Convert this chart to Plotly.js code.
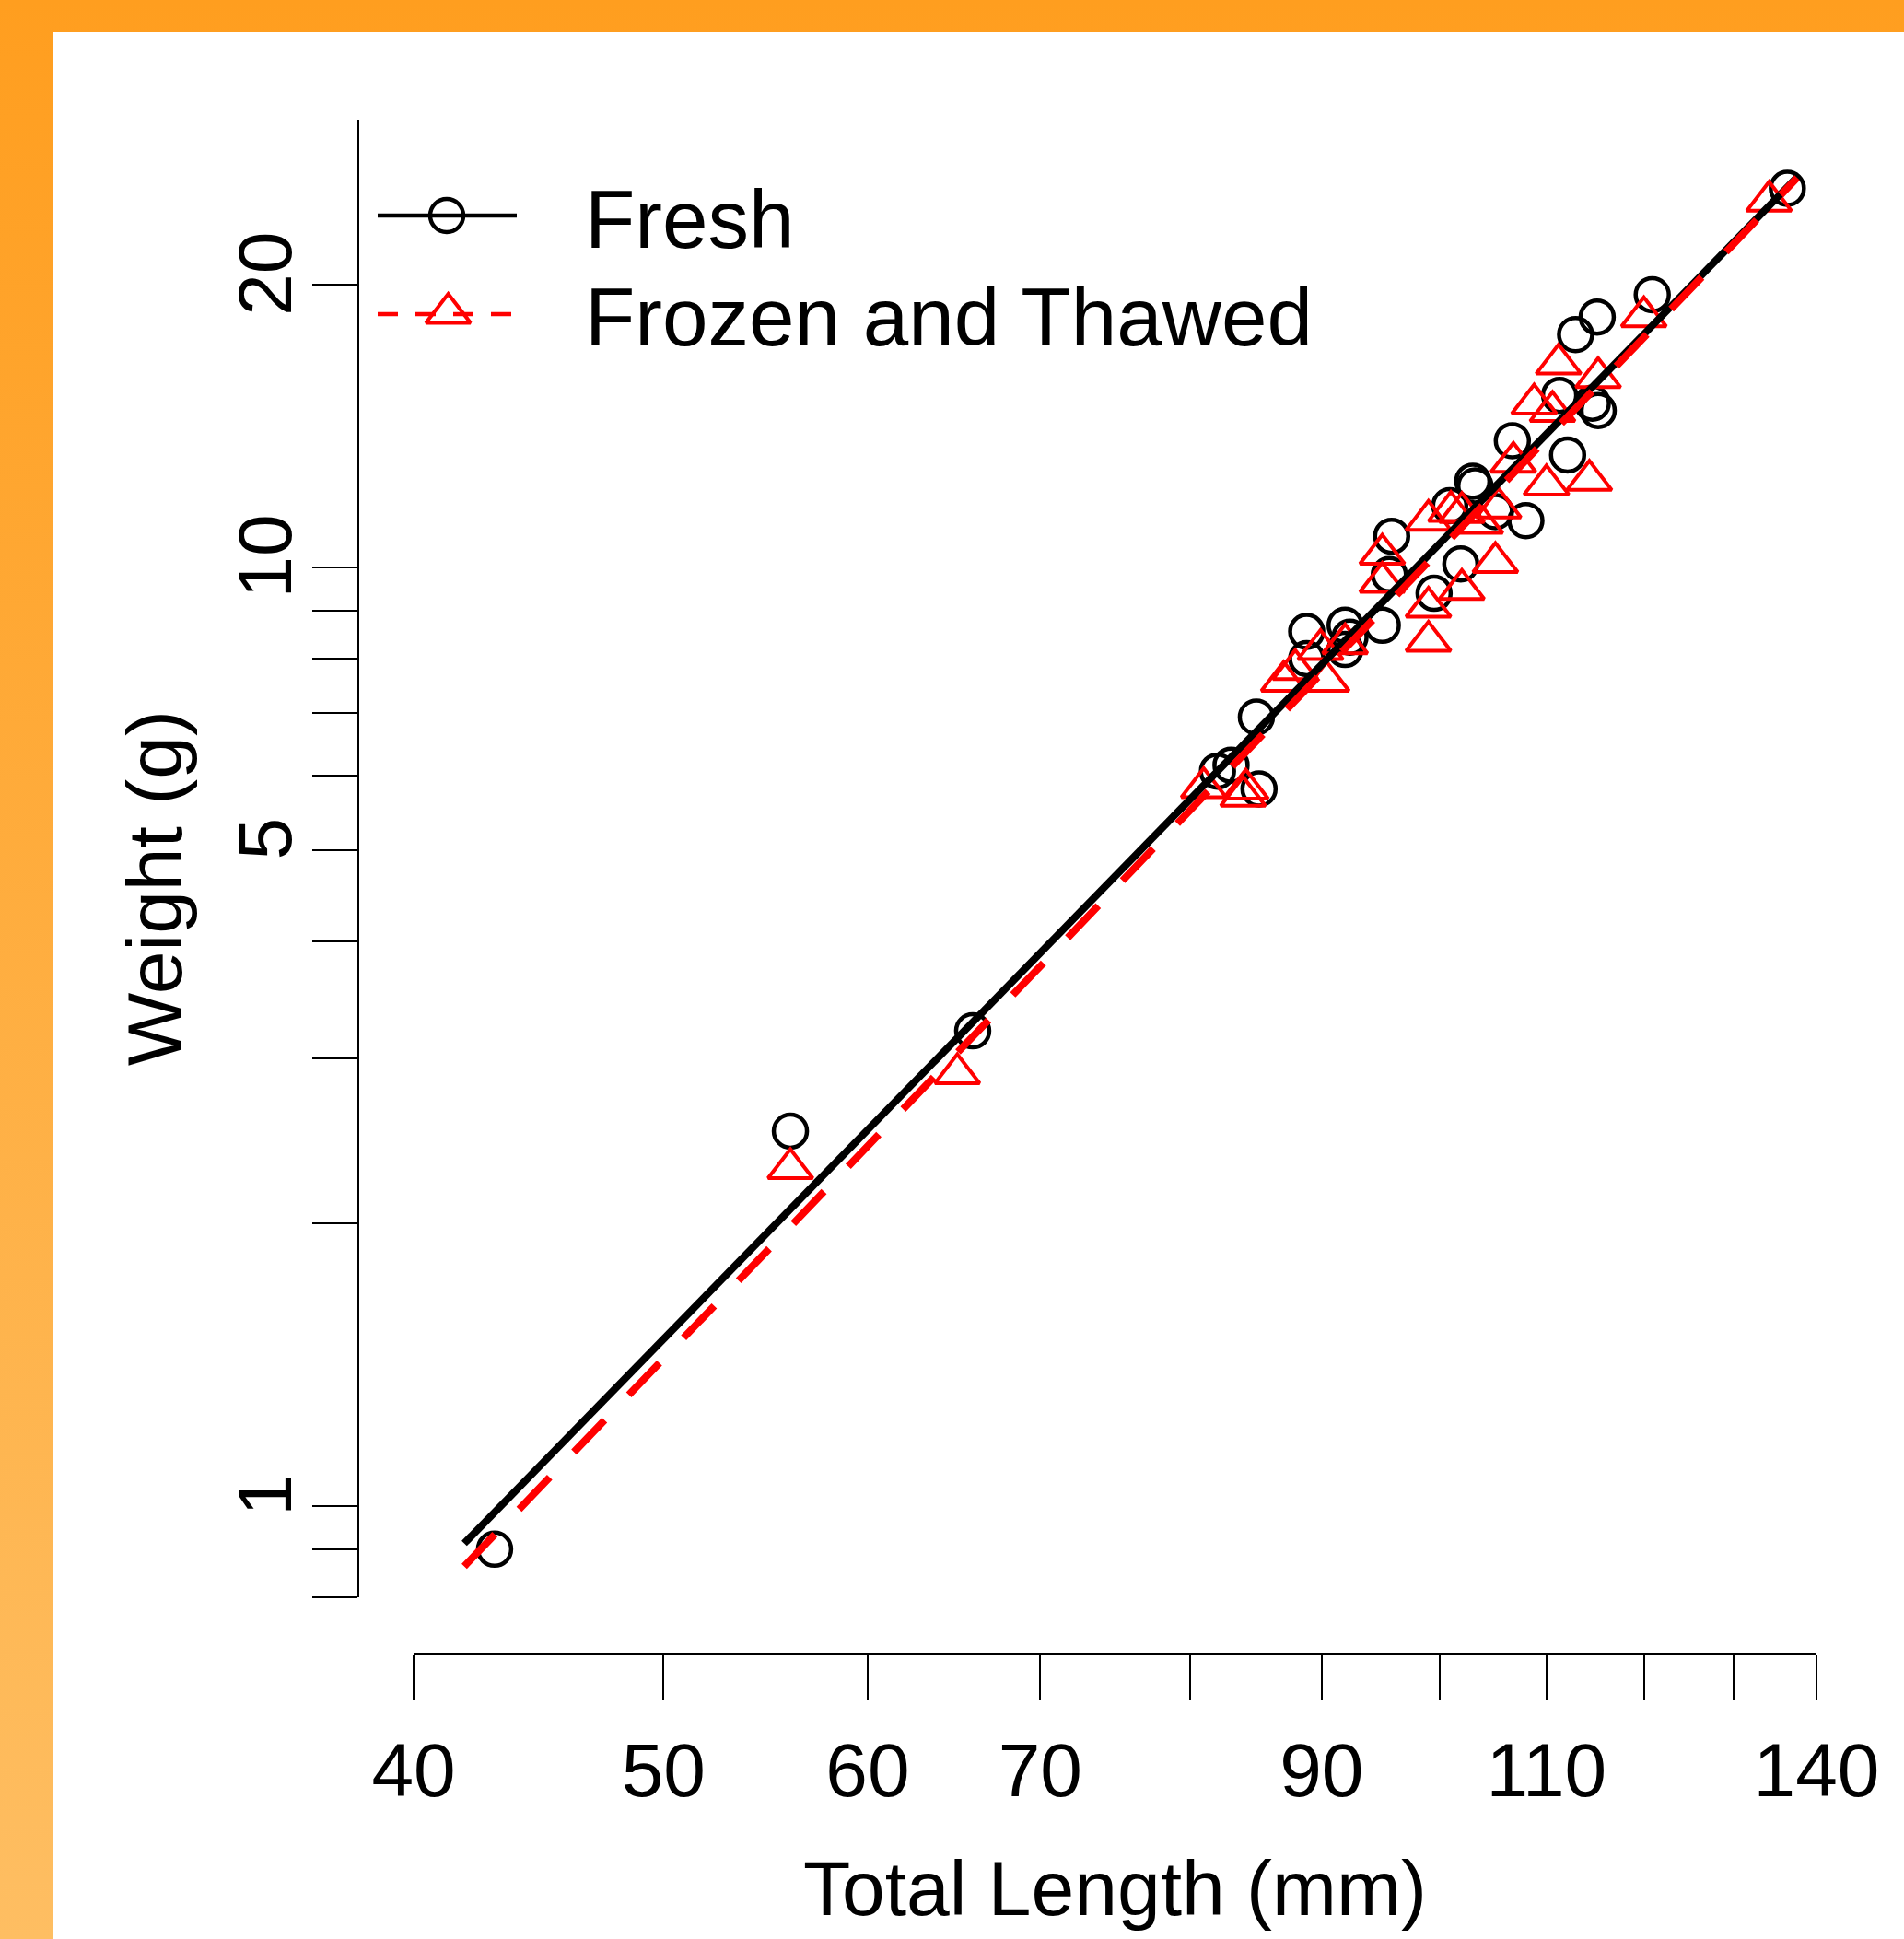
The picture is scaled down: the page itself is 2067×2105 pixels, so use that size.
<!DOCTYPE html>
<html><head><meta charset="utf-8">
<script src="https://cdn.plot.ly/plotly-3.0.1.min.js"></script>
<style>
html,body{margin:0;padding:0;}
body{width:2067px;height:2105px;background:linear-gradient(to bottom,#FF9E1F 0%,#FEBE62 100%);position:relative;overflow:hidden;}
#chart{position:absolute;left:58px;top:35px;width:2009px;height:2070px;background:#ffffff;}
</style></head>
<body><div id="chart"></div>
<script>
// ---- data ----
const freshLength = [43.0, 56.0, 65.9, 82.0, 83.0, 85.1, 84.9, 88.8, 91.9, 92.3, 95.0, 91.9, 88.8, 95.8, 95.6, 101.9, 99.5, 108.0, 100.9, 103.0, 103.2, 105.1, 106.7, 112.1, 111.3, 114.6, 115.2, 112.9, 115.1, 120.9, 136.4];
const freshWeight = [0.90, 2.51, 3.21, 6.07, 6.16, 5.81, 6.93, 8.55, 8.68, 8.43, 8.68, 8.18, 8.00, 10.8, 9.83, 10.09, 9.39, 11.22, 11.64, 12.36, 12.22, 11.47, 13.65, 13.18, 15.26, 14.97, 14.70, 17.71, 18.49, 19.53, 25.35];
const frozenLength = [42.0, 56.0, 65.0, 81.0, 83.9, 84.1, 87.0, 87.9, 90.4, 89.9, 91.9, 95.0, 95.0, 99.0, 99.0, 102.0, 105.1, 99.0, 101.0, 102.0, 103.7, 105.4, 106.8, 110.0, 114.3, 108.8, 110.6, 111.2, 115.2, 120.0, 134.2];
const frozenWeight = [0.797, 2.29, 2.89, 5.83, 5.71, 5.81, 7.57, 7.79, 7.57, 8.18, 8.30, 10.34, 9.65, 9.08, 8.35, 9.48, 10.13, 11.23, 11.48, 11.45, 11.15, 11.58, 12.95, 12.25, 12.39, 14.94, 14.67, 16.48, 15.94, 18.51, 24.57];
const fitLength = [41.85, 137.6];
const freshFit = [0.913, 26.06];
const frozenFit = [0.863, 26.02];
const xTickVals = [40, 50, 60, 70, 80, 90, 100, 110, 120, 130, 140];
const xTickText = ['40', '50', '60', '70', '', '90', '', '110', '', '', '140'];
const yTickVals = [0.8, 0.9, 1, 2, 3, 4, 5, 6, 7, 8, 9, 10, 20];
const yTickText = ['', '', '1', '', '', '', '5', '', '', '', '', '10', '20'];
const seriesNames = ['Fresh', 'Frozen and Thawed'];
const xTitle = 'Total Length (mm)';
const yTitle = 'Weight (g)';

// ---- layout geometry (div pixels) ----
const W = 2009, H = 2070;
const FONT = 'Liberation Sans, Arial, Helvetica, sans-serif';
const circleMarker = {symbol: 'circle-open', size: 36, color: '#000000', line: {width: 4.5, color: '#000000'}};
const triMarker = {symbol: 'triangle-up-open', size: 42, color: '#ff0000', line: {width: 4, color: '#ff0000'}};

const traces = [
  {type: 'scatter', mode: 'markers', x: freshLength, y: freshWeight, name: seriesNames[0],
   marker: circleMarker, cliponaxis: false, showlegend: false, xaxis: 'x', yaxis: 'y'},
  {type: 'scatter', mode: 'markers', x: frozenLength, y: frozenWeight, name: seriesNames[1],
   marker: triMarker, cliponaxis: false, showlegend: false, xaxis: 'x', yaxis: 'y'},
  {type: 'scatter', mode: 'lines', x: fitLength, y: freshFit, name: seriesNames[0] + ' fit',
   line: {color: '#000000', width: 8}, cliponaxis: false, showlegend: false, xaxis: 'x', yaxis: 'y'},
  {type: 'scatter', mode: 'lines', x: fitLength, y: frozenFit, name: seriesNames[1] + ' fit',
   line: {color: '#ff0000', width: 8, dash: '48px,38px'}, cliponaxis: false, showlegend: false, xaxis: 'x', yaxis: 'y'},
  // legend samples (pixel overlay)
  {type: 'scatter', mode: 'lines', x: [352, 503], y: [199, 199], line: {color: '#000000', width: 4.5},
   showlegend: false, hoverinfo: 'skip', xaxis: 'x2', yaxis: 'y2', cliponaxis: false},
  {type: 'scatter', mode: 'markers', x: [427], y: [199], marker: circleMarker,
   showlegend: false, hoverinfo: 'skip', xaxis: 'x2', yaxis: 'y2', cliponaxis: false},
  {type: 'scatter', mode: 'lines', x: [352, 500], y: [306, 306], line: {color: '#ff0000', width: 4.5, dash: '22px,19px'},
   showlegend: false, hoverinfo: 'skip', xaxis: 'x2', yaxis: 'y2', cliponaxis: false},
  {type: 'scatter', mode: 'markers', x: [428.6], y: [305], marker: triMarker,
   showlegend: false, hoverinfo: 'skip', xaxis: 'x2', yaxis: 'y2', cliponaxis: false}
];

const layout = {
  width: W, height: H,
  margin: {l: 0, r: 0, t: 0, b: 0, pad: 0},
  paper_bgcolor: '#ffffff', plot_bgcolor: 'rgba(0,0,0,0)',
  font: {family: FONT, color: '#000000', size: 82},
  showlegend: false,
  xaxis: {
    type: 'log', range: [Math.log10(40), Math.log10(140)],
    domain: [391 / W, 1914 / W], anchor: 'free', position: (H - 1761) / H,
    showline: true, linecolor: '#000000', linewidth: 2,
    ticks: 'outside', ticklen: 49, tickwidth: 2, tickcolor: '#000000',
    tickmode: 'array', tickvals: xTickVals, ticktext: xTickText,
    tickfont: {family: FONT, size: 82, color: '#000000'}, ticklabelstandoff: 6,
    showgrid: false, zeroline: false, automargin: false,
    title: {text: xTitle, font: {family: FONT, size: 84, color: '#000000'}, standoff: 53}
  },
  yaxis: {
    type: 'log', range: [Math.log10(0.8), Math.log10(30)],
    domain: [(H - 1699) / H, (H - 95) / H], anchor: 'free', position: 331 / W,
    showline: true, linecolor: '#000000', linewidth: 2,
    ticks: 'outside', ticklen: 49, tickwidth: 2, tickcolor: '#000000',
    tickmode: 'array', tickvals: yTickVals, ticktext: yTickText, tickangle: -90,
    tickfont: {family: FONT, size: 82, color: '#000000'}, ticklabelstandoff: -10,
    showgrid: false, zeroline: false, automargin: false
  },
  xaxis2: {domain: [0, 1], range: [0, W], visible: false, anchor: 'y2', fixedrange: true},
  yaxis2: {domain: [0, 1], range: [H, 0], visible: false, anchor: 'x2', fixedrange: true},
  annotations: [
    {xref: 'x2', yref: 'y2', x: 110, y: 929, text: yTitle, textangle: -90, showarrow: false,
     xanchor: 'center', yanchor: 'middle', font: {family: FONT, size: 84, color: '#000000'}},
    {xref: 'x2', yref: 'y2', x: 575, y: 203, text: seriesNames[0], showarrow: false,
     xanchor: 'left', yanchor: 'middle', font: {family: FONT, size: 89, color: '#000000'}},
    {xref: 'x2', yref: 'y2', x: 575, y: 309, text: seriesNames[1], showarrow: false,
     xanchor: 'left', yanchor: 'middle', font: {family: FONT, size: 89, color: '#000000'}}
  ]
};

Plotly.newPlot('chart', traces, layout, {displayModeBar: false, staticPlot: true});
</script>
</body></html>
